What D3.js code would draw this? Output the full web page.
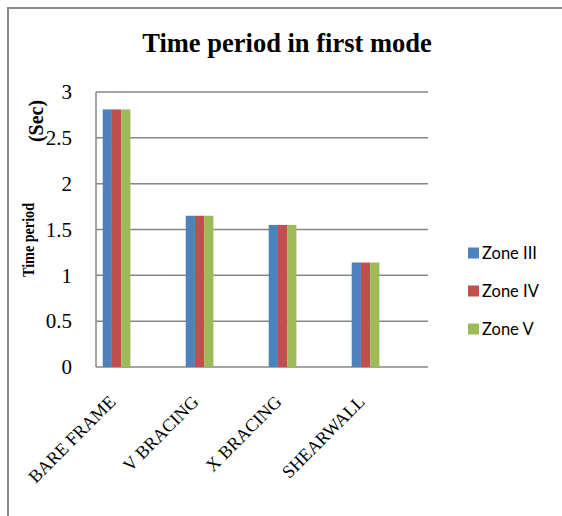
<!DOCTYPE html>
<html>
<head>
<meta charset="utf-8">
<script src="https://cdn.jsdelivr.net/npm/d3@7"></script>
<style>
  body { margin: 0; background: #fff; overflow: hidden; }
  svg { display: block; }
</style>
</head>
<body>
<div id="chart"></div>
<script>
// data
var categories = ["BARE FRAME", "V BRACING", "X BRACING", "SHEARWALL"];
var seriesNames = ["Zone III", "Zone IV", "Zone V"];
var zone3 = [2.81, 1.65, 1.55, 1.14];
var zone4 = [2.81, 1.65, 1.55, 1.14];
var zone5 = [2.81, 1.65, 1.55, 1.14];
var yTicks = [0, 0.5, 1, 1.5, 2, 2.5, 3];
var colors = ["#4F81BD", "#C0504D", "#9BBB59"];

var seriesValues = [zone3, zone4, zone5];

var svgWidth = 562;
var svgHeight = 516;

var plot = { left: 96, right: 428, top: 92, bottom: 367 };

var svg = d3.select("#chart")
    .append("svg")
    .attr("width", svgWidth)
    .attr("height", svgHeight);

// outer chart border: only top and left edges are inside the picture
svg.append("path")
    .attr("d", `M8,${svgHeight} L8,8 L${svgWidth},8`)
    .attr("fill", "none")
    .attr("stroke", "#8a8a8a")
    .attr("stroke-width", 2);

// scales
var x = d3.scaleBand()
    .domain(categories)
    .range([plot.left, plot.right]);

var groupOffset = 6.7;
var xInner = d3.scaleBand()
    .domain(seriesNames)
    .range([0, 27.7]);

var y = d3.scaleLinear()
    .domain([0, 3])
    .range([plot.bottom, plot.top]);

// gridlines
svg.append("g")
    .selectAll("line")
    .data(yTicks)
    .enter()
    .append("line")
    .attr("x1", plot.left)
    .attr("x2", plot.right)
    .attr("y1", d => y(d))
    .attr("y2", d => y(d))
    .attr("stroke", "#878787")
    .attr("stroke-width", 1.5);

// left axis line
svg.append("line")
    .attr("x1", plot.left)
    .attr("x2", plot.left)
    .attr("y1", plot.top)
    .attr("y2", plot.bottom)
    .attr("stroke", "#878787")
    .attr("stroke-width", 1.5);

// y tick labels through a d3 axis
var leftAxis = d3.axisLeft(y)
    .tickValues(yTicks)
    .tickSize(0)
    .tickPadding(24)
    .tickFormat(d => d);

var yAxis = svg.append("g")
    .attr("transform", `translate(${plot.left}, 0)`)
    .call(leftAxis);
yAxis.select(".domain").remove();
yAxis.selectAll("text")
    .attr("font-family", "Liberation Serif, Times New Roman, serif")
    .attr("font-size", 21)
    .attr("fill", "#000");

// bars
var groups = svg.append("g")
    .selectAll("g")
    .data(categories)
    .enter()
    .append("g")
    .attr("transform", d => `translate(${x(d) + groupOffset}, 0)`);

groups.selectAll("rect")
    .data((d, i) => seriesNames.map((s, j) => ({ series: s, value: seriesValues[j][i], color: colors[j] })))
    .enter()
    .append("rect")
    .attr("x", d => xInner(d.series))
    .attr("width", xInner.bandwidth())
    .attr("y", d => y(d.value))
    .attr("height", d => y(0) - y(d.value))
    .attr("fill", d => d.color);

// category labels, rotated
svg.append("g")
    .selectAll("text")
    .data(categories)
    .enter()
    .append("text")
    .attr("transform", d => `translate(${x(d) + groupOffset + 14}, 403) rotate(-45)`)
    .attr("text-anchor", "end")
    .attr("font-family", "Liberation Serif, Times New Roman, serif")
    .attr("font-size", 18)
    .attr("fill", "#000")
    .text(d => d);

// title
svg.append("text")
    .attr("x", 287)
    .attr("y", 52)
    .attr("text-anchor", "middle")
    .attr("font-family", "Liberation Serif, Times New Roman, serif")
    .attr("font-weight", "bold")
    .attr("font-size", 26.5)
    .text("Time period in first mode");

// y axis title (two pieces as in the original)
svg.append("text")
    .attr("transform", "translate(34, 240) rotate(-90)")
    .attr("text-anchor", "middle")
    .attr("font-family", "Liberation Serif, Times New Roman, serif")
    .attr("font-weight", "bold")
    .attr("font-size", 16)
    .attr("textLength", 74)
    .attr("lengthAdjust", "spacingAndGlyphs")
    .text("Time period");

svg.append("text")
    .attr("transform", "translate(43, 121) rotate(-90)")
    .attr("text-anchor", "middle")
    .attr("font-family", "Liberation Serif, Times New Roman, serif")
    .attr("font-weight", "bold")
    .attr("font-size", 20)
    .text("(Sec)");

// legend
var legend = svg.append("g")
    .selectAll("g")
    .data(seriesNames)
    .enter()
    .append("g")
    .attr("transform", (d, i) => `translate(468, ${253 + i * 38})`);

legend.append("rect")
    .attr("x", 0)
    .attr("y", -5.5)
    .attr("width", 11)
    .attr("height", 11)
    .attr("fill", (d, i) => colors[i]);

legend.append("text")
    .attr("x", 14)
    .attr("y", 6)
    .attr("font-family", "Lato, Open Sans, sans-serif")
    .attr("font-size", 16.5)
    .attr("fill", "#000")
    .text(d => d);
</script>
</body>
</html>
